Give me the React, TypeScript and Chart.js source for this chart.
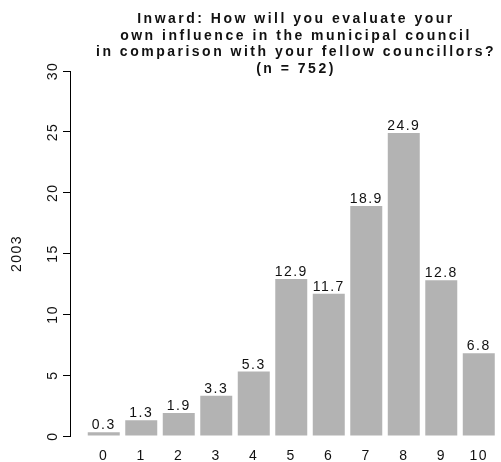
import React, { useEffect, useRef } from 'react';
import { Chart, registerables } from 'chart.js';

Chart.register(...registerables);

const categories = [0, 1, 2, 3, 4, 5, 6, 7, 8, 9, 10];
const values = [0.3, 1.3, 1.9, 3.3, 5.3, 12.9, 11.7, 18.9, 24.9, 12.8, 6.8];
const yTicks = [0, 5, 10, 15, 20, 25, 30];
const titleLines = [
  'Inward: How will you evaluate your',
  'own influence in the municipal council',
  'in comparison with your fellow councillors?',
  '(n = 752)',
];
const yAxisLabel = '2003';

const FONT = "'Liberation Sans', Arial, Helvetica, sans-serif";
const TEXT = '#111111';
const BAR = '#b3b3b3';

const spacingPlugin = {
  id: 'spacing',
  beforeDraw(chart: any) {
    const ctx = chart.ctx as any;
    ctx.letterSpacing = '1.5px';
    const tb = chart.titleBlock;
    if (tb && !tb.__patched) {
      const orig = tb.draw;
      tb.draw = function (...args: any[]) {
        const c = this.ctx as any;
        c.save();
        c.letterSpacing = '2.5px';
        orig.apply(this, args);
        c.restore();
      };
      tb.__patched = true;
    }
  },
};

const valueLabels = {
  id: 'valueLabels',
  afterDatasetsDraw(chart: any) {
    const ctx = chart.ctx as any;
    const meta = chart.getDatasetMeta(0);
    ctx.save();
    ctx.letterSpacing = '1.5px';
    ctx.font = `14px ${FONT}`;
    ctx.fillStyle = TEXT;
    ctx.textAlign = 'center';
    ctx.textBaseline = 'alphabetic';
    meta.data.forEach((el: any, i: number) => {
      ctx.fillText(values[i].toFixed(1), el.x, el.y - 3);
    });
    ctx.restore();
  },
};

export default function App() {
  const ref = useRef<HTMLCanvasElement | null>(null);

  useEffect(() => {
    if (!ref.current) return;
    const chart = new Chart(ref.current, {
      type: 'bar',
      data: {
        datasets: [
          {
            data: categories.map((c, i) => ({ x: c, y: values[i] })),
            backgroundColor: BAR,
            borderWidth: 0,
            barPercentage: 0.853,
            categoryPercentage: 1,
          },
        ],
      },
      options: {
        responsive: false,
        animation: false,
        events: [],
        devicePixelRatio: 1,
        layout: { padding: 0 },
        plugins: {
          legend: { display: false },
          tooltip: { enabled: false },
          title: {
            display: true,
            text: titleLines,
            color: TEXT,
            font: { family: FONT, size: 14, weight: 'bold', lineHeight: 1.18 },
            padding: { top: 11, bottom: -6 },
          },
        },
        scales: {
          x: {
            type: 'linear',
            min: -0.9,
            max: 10.55,
            offset: false,
            grid: { display: false, drawTicks: false, offset: false },
            border: { display: false },
            afterBuildTicks: (scale: any) => {
              scale.ticks = categories.map((v) => ({ value: v }));
            },
            afterFit: (scale: any) => {
              scale.height = 26;
            },
            ticks: {
              color: TEXT,
              font: { family: FONT, size: 14 },
              padding: 12,
              maxRotation: 0,
              minRotation: 0,
              autoSkip: false,
              callback: (v: any) => String(v),
            },
          },
          y: {
            type: 'linear',
            min: 0,
            max: 30,
            grid: {
              display: true,
              drawOnChartArea: false,
              drawTicks: true,
              tickLength: 7,
              color: '#000000',
              lineWidth: 1,
            },
            border: { display: true, color: '#000000', width: 1 },
            afterBuildTicks: (scale: any) => {
              scale.ticks = yTicks.map((v) => ({ value: v }));
            },
            afterFit: (scale: any) => {
              scale.width = 70;
            },
            ticks: {
              color: TEXT,
              font: { family: FONT, size: 14 },
              padding: 2,
              minRotation: 90,
              maxRotation: 90,
              crossAlign: 'center',
              callback: (v: any) => String(v),
            },
            title: {
              display: true,
              text: yAxisLabel,
              color: TEXT,
              font: { family: FONT, size: 14 },
              padding: { top: 8.6, bottom: 0 },
            },
          },
          spacer: {
            type: 'linear',
            position: 'right',
            display: true,
            grid: { display: false, drawTicks: false },
            border: { display: false },
            ticks: { display: false },
            afterFit: (scale: any) => {
              scale.width = 92.6;
            },
          },
        },
      } as any,
      plugins: [spacingPlugin, valueLabels],
    });
    return () => chart.destroy();
  }, []);

  return (
    <div
      style={{
        position: 'absolute',
        left: 0,
        top: 0,
        width: 501,
        height: 462,
        overflow: 'hidden',
        background: '#ffffff',
      }}
    >
      <canvas ref={ref} width={592} height={462} style={{ display: 'block', width: 592, height: 462 }} />
    </div>
  );
}
